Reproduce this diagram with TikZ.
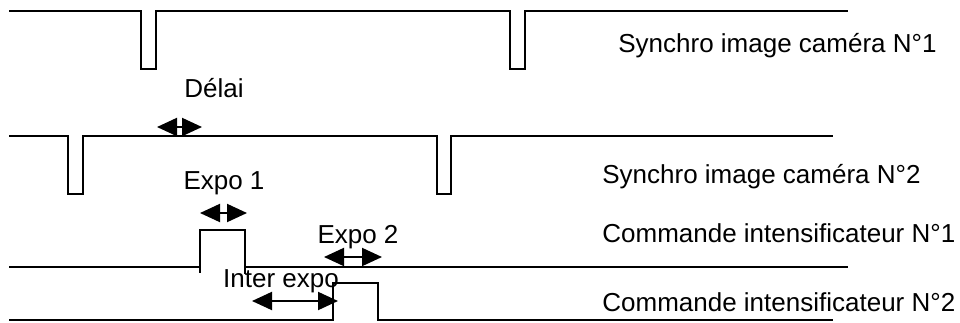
\documentclass[tikz,border=0pt]{standalone}
\usepackage{fontspec}
\setmainfont{Liberation Sans}
\usetikzlibrary{arrows.meta}

\tikzset{
    signal/.style={line width=1pt, line join=miter},
    span/.style={line width=1pt, {Triangle[length=10pt,width=9pt]}-{Triangle[length=10pt,width=9pt]}},
    lbl/.style={inner sep=0pt, font=\fontsize{13}{15}\selectfont},
    signame/.style={lbl, anchor=west}
}

\begin{document}
\begin{tikzpicture}[x=0.5pt, y=-0.5pt]
    \useasboundingbox (0, 0) rectangle (960, 322);

    % signals
    \draw[signal] (9, 11)--(141, 11)--(141, 69)--(156, 69)--(156, 11)--(510, 11)--(510, 69)--(525, 69)--(525, 11)--(848, 11);
    \draw[signal] (9, 136)--(68, 136)--(68, 194)--(83, 194)--(83, 136)--(437, 136)--(437, 194)--(451, 194)--(451, 136)--(833, 136);
    \draw[signal] (9, 267)--(200, 267)--(200, 230)--(245, 230)--(245, 267)--(848, 267);
    \draw[signal] (200, 267)--(200, 273);
    \draw[signal] (245, 267)--(245, 274);
    \draw[signal] (9, 320)--(333, 320)--(333, 283)--(378, 283)--(378, 320)--(833, 320);

    \node[signame] (cam1) at (618, 46) {Synchro image caméra N°1};
    \node[signame] (cam2) at (602, 177) {Synchro image caméra N°2};
    \node[signame] (int1) at (602, 233) {Commande intensificateur N°1};
    \node[signame] (int2) at (602, 302) {Commande intensificateur N°2};

    % durations
    \node[lbl] (delai) at (214, 88) {Délai};
    \node[lbl] (expo1) at (224, 183) {Expo 1};
    \node[lbl] (expo2) at (358, 237) {Expo 2};
    \node[lbl] (inter) at (281, 281) {Inter expo};

    \coordinate (d1) at (157, 127);
    \coordinate (d2) at (202, 127);
    \coordinate (e1) at (200, 213);
    \coordinate (e2) at (247, 213);
    \coordinate (f1) at (324, 257);
    \coordinate (f2) at (382, 257);
    \coordinate (g1) at (252, 301);
    \coordinate (g2) at (338, 301);

    \draw[span] (d1)--(d2);
    \draw[span] (e1)--(e2);
    \draw[span] (f1)--(f2);
    \draw[span] (g1)--(g2);
\end{tikzpicture}
\end{document}
